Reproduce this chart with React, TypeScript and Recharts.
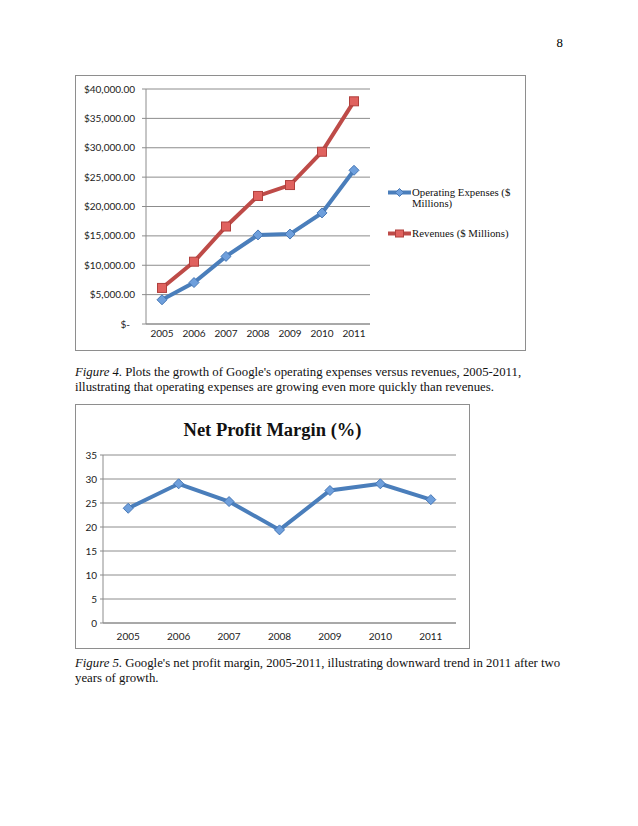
import React from 'react';
import { LineChart, Line, XAxis, YAxis, CartesianGrid } from 'recharts';

// values (Google, $ millions and %)
const years = ['2005', '2006', '2007', '2008', '2009', '2010', '2011'];
const operatingExpenses = [4121, 7054, 11510, 15164, 15308, 18905, 26163];
const revenues = [6139, 10605, 16594, 21796, 23651, 29321, 37905];
const moneyTicks = [0, 5000, 10000, 15000, 20000, 25000, 30000, 35000, 40000];
const netProfitMargin = [23.9, 29.0, 25.3, 19.4, 27.6, 29.0, 25.7];
const marginTicks = [0, 5, 10, 15, 20, 25, 30, 35];
const bandEdges = [0, 1, 2, 3, 4, 5, 6, 7];

const BLUE = '#4a7ebb';
const RED = '#be4b48';
const GRID = '#8c8c8c';
const AXIS_FONT = 'Lato, "Noto Sans", sans-serif';
const SERIF = '"Liberation Serif", "Times New Roman", serif';

const finData = years.map((year, i) => ({
  year,
  opex: operatingExpenses[i],
  revenue: revenues[i],
}));

const marginData = years.map((year, i) => ({ year, margin: netProfitMargin[i] }));

const legendItems = [
  { name: 'Operating Expenses ($ Millions)', color: BLUE, marker: 'diamond' },
  { name: 'Revenues ($ Millions)', color: RED, marker: 'square' },
];

const Diamond = (props: any) => {
  const { cx, cy, index } = props;
  if (cx == null || cy == null) return null;
  const r = 5;
  return (
    <path
      key={`d-${index}`}
      d={`M${cx},${cy - r}L${cx + r},${cy}L${cx},${cy + r}L${cx - r},${cy}Z`}
      fill="#6e9fdc"
      stroke="#4677b5"
      strokeWidth={1}
    />
  );
};

const Square = (props: any) => {
  const { cx, cy, index } = props;
  if (cx == null || cy == null) return null;
  const s = 9;
  return (
    <rect
      key={`s-${index}`}
      x={cx - s / 2}
      y={cy - s / 2}
      width={s}
      height={s}
      fill="#e0625f"
      stroke="#b0403d"
      strokeWidth={1}
    />
  );
};

const MoneyTick = (props: any) => {
  const { x, y, payload } = props;
  const v = payload.value as number;
  const label =
    v === 0 ? '$-' : '$' + v.toLocaleString('en-US', { minimumFractionDigits: 2 });
  return (
    <text
      x={v === 0 ? x - 5 : x}
      y={y}
      dy={3.5}
      textAnchor="end"
      fill="#222"
      fontSize={10}
      fontFamily={AXIS_FONT}
    >
      {label}
    </text>
  );
};

const makeYearTick = (dy: number) => (props: any) => {
  const { x, y, payload } = props;
  return (
    <text x={x} y={y} dy={dy} textAnchor="middle" fill="#222" fontSize={10} fontFamily={AXIS_FONT}>
      {payload.value}
    </text>
  );
};

const PlainTick = (props: any) => {
  const { x, y, payload } = props;
  return (
    <text x={x} y={y} dy={3.5} textAnchor="end" fill="#222" fontSize={10} fontFamily={AXIS_FONT}>
      {payload.value}
    </text>
  );
};

const LegendMark = ({ color, marker }: { color: string; marker: string }) => (
  <svg width={24} height={11} style={{ flex: 'none' }}>
    <line x1={0} y1={5.5} x2={23} y2={5.5} stroke={color} strokeWidth={4} />
    {marker === 'diamond' ? (
      <path d="M11.5,1.5L15.5,5.5L11.5,9.5L7.5,5.5Z" fill="#6e9fdc" stroke="#4677b5" />
    ) : (
      <rect x={7.5} y={2} width={8} height={7} fill="#e0625f" stroke="#b0403d" />
    )}
  </svg>
);

const boxStyle: React.CSSProperties = {
  position: 'absolute',
  left: 75,
  border: '1px solid #8e8e8e',
  boxSizing: 'border-box',
  background: '#fff',
};

const captionStyle: React.CSSProperties = {
  position: 'absolute',
  left: 75,
  fontFamily: SERIF,
  fontSize: 12.8,
  lineHeight: '15px',
  color: '#111',
  whiteSpace: 'nowrap',
};

// caption kept on the same two lines as the page
const Caption = ({ label, first, second, top }: { label: string; first: string; second: string; top: number }) => (
  <div style={{ ...captionStyle, top }}>
    <div>
      <i style={{ marginRight: 3 }}>{label}</i>
      <span>{first}</span>
    </div>
    <div>{second}</div>
  </div>
);

export default function App() {
  return (
    <div
      style={{
        position: 'absolute',
        left: 0,
        top: 0,
        width: 638,
        height: 826,
        background: '#fff',
        overflow: 'hidden',
      }}
    >
      <div
        style={{
          position: 'absolute',
          left: 540,
          top: 36,
          width: 23,
          textAlign: 'right',
          fontFamily: SERIF,
          fontSize: 12.8,
          lineHeight: '15px',
        }}
      >
        8
      </div>

      {/* Figure 4 */}
      <div style={{ ...boxStyle, top: 75, width: 451, height: 276 }}>
        <LineChart
          width={449}
          height={274}
          data={finData}
          margin={{ top: 13, right: 155, bottom: 24, left: 0 }}
        >
          <CartesianGrid vertical={false} stroke={GRID} />
          <XAxis
            dataKey="year"
            scale="band"
            height={1}
            tickSize={0}
            tickMargin={0}
            tickLine={false}
            axisLine={{ stroke: GRID }}
            tick={makeYearTick(13)}
            interval={0}
          />
          <XAxis
            xAxisId="edge"
            type="number"
            domain={[0, 7]}
            ticks={bandEdges}
            allowDataOverflow
            height={1}
            tick={false}
            axisLine={false}
            tickLine={{ stroke: GRID }}
            tickSize={4}
          />
          <YAxis
            width={70}
            domain={[0, 40000]}
            ticks={moneyTicks}
            interval={0}
            tickSize={4}
            tickMargin={7}
            axisLine={{ stroke: GRID }}
            tickLine={{ stroke: GRID }}
            tick={<MoneyTick />}
          />
          <Line
            dataKey="opex"
            name={legendItems[0].name}
            stroke={BLUE}
            strokeWidth={4}
            dot={<Diamond />}
            isAnimationActive={false}
          />
          <Line
            dataKey="revenue"
            name={legendItems[1].name}
            stroke={RED}
            strokeWidth={4}
            dot={<Square />}
            isAnimationActive={false}
          />
        </LineChart>
      </div>

      <div
        style={{
          position: 'absolute',
          left: 388,
          top: 187,
          fontFamily: SERIF,
          fontSize: 10.8,
          lineHeight: '10.8px',
          color: '#111',
        }}
      >
        {legendItems.map((item) => (
          <div key={item.name} style={{ display: 'flex', alignItems: 'flex-start', marginBottom: 19 }}>
            <LegendMark color={item.color} marker={item.marker} />
            <span style={{ width: 110 }}>{item.name}</span>
          </div>
        ))}
      </div>

      <Caption
        top={365}
        label="Figure 4."
        first="Plots the growth of Google's operating expenses versus revenues, 2005-2011,"
        second="illustrating that operating expenses are growing even more quickly than revenues."
      />

      {/* Figure 5 */}
      <div style={{ ...boxStyle, top: 404, width: 395, height: 245 }}>
        <div
          style={{
            position: 'absolute',
            left: 0,
            top: 14,
            width: 393,
            textAlign: 'center',
            fontFamily: SERIF,
            fontWeight: 'bold',
            fontSize: 18.5,
            lineHeight: '22px',
            color: '#111',
          }}
        >
          Net Profit Margin (%)
        </div>
        <LineChart
          width={393}
          height={243}
          data={marginData}
          margin={{ top: 50, right: 13, bottom: 23, left: 0 }}
        >
          <CartesianGrid vertical={false} stroke={GRID} />
          <XAxis
            dataKey="year"
            scale="band"
            height={1}
            tickSize={0}
            tickMargin={0}
            tickLine={false}
            axisLine={{ stroke: GRID }}
            tick={makeYearTick(17)}
            interval={0}
          />
          <XAxis
            xAxisId="edge"
            type="number"
            domain={[0, 7]}
            ticks={bandEdges}
            allowDataOverflow
            height={1}
            tick={false}
            axisLine={false}
            tickLine={{ stroke: GRID }}
            tickSize={3}
          />
          <YAxis
            width={27}
            domain={[0, 35]}
            ticks={marginTicks}
            interval={0}
            tickSize={3}
            tickMargin={3}
            axisLine={{ stroke: GRID }}
            tickLine={{ stroke: GRID }}
            tick={<PlainTick />}
          />
          <Line
            dataKey="margin"
            stroke={BLUE}
            strokeWidth={4}
            dot={<Diamond />}
            isAnimationActive={false}
          />
        </LineChart>
      </div>

      <Caption
        top={656}
        label="Figure 5."
        first="Google's net profit margin, 2005-2011, illustrating downward trend in 2011 after two"
        second="years of growth."
      />
    </div>
  );
}
